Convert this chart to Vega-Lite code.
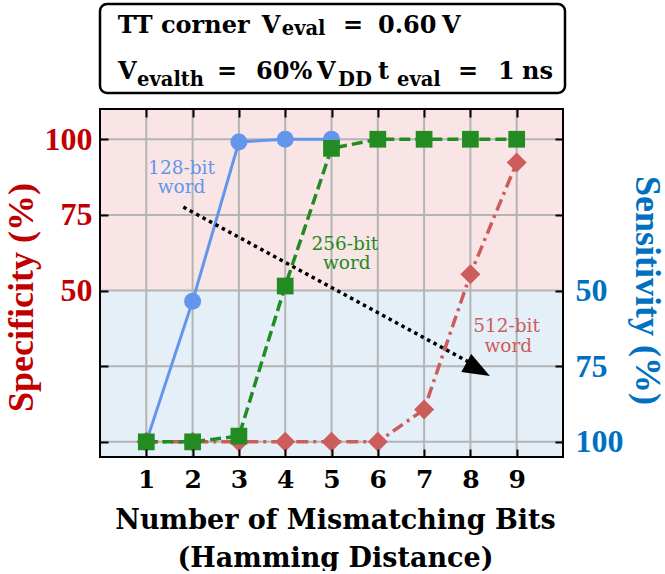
{
  "$schema": "https://vega.github.io/schema/vega-lite/v6.json",
  "padding": {"left": 3, "top": 2, "right": 0, "bottom": 0},
  "background": "white",
  "spacing": 16,
  "bounds": "flush",
  "config": {
    "view": {"stroke": null},
    "axis": {"domain": false, "grid": false, "tickColor": "black", "tickWidth": 2, "tickSize": -8}
  },
  "datasets": {
    "series": [
      {"word": "128-bit", "hd": 1, "v": 0}, {"word": "128-bit", "hd": 2, "v": 46.5}, {"word": "128-bit", "hd": 3, "v": 99.1}, {"word": "128-bit", "hd": 4, "v": 100}, {"word": "128-bit", "hd": 5, "v": 100},
      {"word": "256-bit", "hd": 1, "v": 0}, {"word": "256-bit", "hd": 2, "v": 0}, {"word": "256-bit", "hd": 3, "v": 1.9}, {"word": "256-bit", "hd": 4, "v": 51.5}, {"word": "256-bit", "hd": 5, "v": 97}, {"word": "256-bit", "hd": 6, "v": 100}, {"word": "256-bit", "hd": 7, "v": 100}, {"word": "256-bit", "hd": 8, "v": 100}, {"word": "256-bit", "hd": 9, "v": 100},
      {"word": "512-bit", "hd": 1, "v": 0}, {"word": "512-bit", "hd": 2, "v": 0}, {"word": "512-bit", "hd": 3, "v": 0}, {"word": "512-bit", "hd": 4, "v": 0}, {"word": "512-bit", "hd": 5, "v": 0}, {"word": "512-bit", "hd": 6, "v": 0}, {"word": "512-bit", "hd": 7, "v": 10.7}, {"word": "512-bit", "hd": 8, "v": 55.4}, {"word": "512-bit", "hd": 9, "v": 92.3}
    ],
    "notes": [
      {"word": "128-bit", "hd": 1.76, "v": 90.6, "text": "128-bit"}, {"word": "128-bit", "hd": 1.76, "v": 84.3, "text": "word"},
      {"word": "256-bit", "hd": 5.29, "v": 65.3, "text": "256-bit"}, {"word": "256-bit", "hd": 5.33, "v": 59.2, "text": "word"},
      {"word": "512-bit", "hd": 8.78, "v": 38.3, "text": "512-bit"}, {"word": "512-bit", "hd": 8.82, "v": 31.6, "text": "word"}
    ],
    "trend": [{"hd": 1.8, "v": 77.6}, {"hd": 7.95, "v": 26.5}],
    "head": [{"hd": 8.166, "v": 23.9}],
    "bands": [{"region": "specificity", "lo": 50, "hi": 110}, {"region": "sensitivity", "lo": -5, "hi": 50}],
    "gridx": [{"hd": 1}, {"hd": 2}, {"hd": 3}, {"hd": 4}, {"hd": 5}, {"hd": 6}, {"hd": 7}, {"hd": 8}, {"hd": 9}],
    "gridy": [{"v": 0}, {"v": 25}, {"v": 50}, {"v": 75}, {"v": 100}],
    "boxMain": [
      {"text": "TT corner", "pos": 0.0381, "row": 0.678},
      {"text": "V", "pos": 0.3477, "row": 0.678},
      {"text": "=", "pos": 0.5226, "row": 0.678},
      {"text": "0.60", "pos": 0.5978, "row": 0.678},
      {"text": "V", "pos": 0.7355, "row": 0.678},
      {"text": "V", "pos": 0.0387, "row": 0.154},
      {"text": "=", "pos": 0.2516, "row": 0.154},
      {"text": "60%", "pos": 0.3355, "row": 0.154},
      {"text": "V", "pos": 0.4667, "row": 0.154},
      {"text": "t", "pos": 0.5978, "row": 0.154},
      {"text": "=", "pos": 0.7699, "row": 0.154},
      {"text": "1", "pos": 0.8559, "row": 0.154},
      {"text": "ns", "pos": 0.9075, "row": 0.154}
    ],
    "boxSub": [
      {"text": "eval", "pos": 0.3908, "row": 0.648},
      {"text": "evalth", "pos": 0.0796, "row": 0.079},
      {"text": "DD", "pos": 0.5118, "row": 0.079},
      {"text": "eval", "pos": 0.6387, "row": 0.079}
    ]
  },
  "vconcat": [
    {
      "width": 465,
      "height": 89,
      "layer": [
        {
          "data": {"values": [{"x0": 0, "x1": 1, "y0": 0, "y1": 1}]},
          "mark": {"type": "rect", "fill": "white", "stroke": "black", "strokeWidth": 2.5, "cornerRadius": 7},
          "encoding": {
            "x": {"field": "x0", "type": "quantitative", "scale": {"domain": [0, 1], "nice": false, "zero": false}, "axis": null},
            "x2": {"field": "x1"},
            "y": {"field": "y0", "type": "quantitative", "scale": {"domain": [0, 1], "nice": false, "zero": false}, "axis": null},
            "y2": {"field": "y1"}
          }
        },
        {
          "data": {"name": "boxMain"},
          "mark": {"type": "text", "align": "left", "baseline": "alphabetic", "font": "DejaVu Serif", "fontWeight": "bold", "fontSize": 24, "color": "black"},
          "encoding": {
            "x": {"field": "pos", "type": "quantitative", "scale": {"domain": [0, 1], "nice": false, "zero": false}, "axis": null},
            "y": {"field": "row", "type": "quantitative", "scale": {"domain": [0, 1], "nice": false, "zero": false}, "axis": null},
            "text": {"field": "text"}
          }
        },
        {
          "data": {"name": "boxSub"},
          "mark": {"type": "text", "align": "left", "baseline": "alphabetic", "font": "DejaVu Serif", "fontWeight": "bold", "fontSize": 19.5, "color": "black"},
          "encoding": {
            "x": {"field": "pos", "type": "quantitative", "scale": {"domain": [0, 1], "nice": false, "zero": false}, "axis": null},
            "y": {"field": "row", "type": "quantitative", "scale": {"domain": [0, 1], "nice": false, "zero": false}, "axis": null},
            "text": {"field": "text"}
          }
        }
      ]
    },
    {
      "width": 463,
      "height": 348,
      "resolve": {"axis": {"x": "independent", "y": "independent"}},
      "layer": [
        {
          "data": {"name": "bands"},
          "mark": {"type": "rect"},
          "encoding": {
            "y": {"field": "lo", "type": "quantitative", "scale": {"domain": [-5, 110], "nice": false, "zero": false}, "axis": null},
            "y2": {"field": "hi"},
            "color": {"field": "region", "type": "nominal", "scale": {"domain": ["specificity", "sensitivity"], "range": ["#F9E5E5", "#E4EFF8"]}, "legend": null}
          }
        },
        {
          "data": {"name": "gridx"},
          "mark": {"type": "rule", "color": "#B4B4B4", "strokeWidth": 2},
          "encoding": {
            "x": {"field": "hd", "type": "quantitative", "scale": {"domain": [0, 10], "nice": false, "zero": false}, "axis": null}
          }
        },
        {
          "data": {"name": "gridy"},
          "mark": {"type": "rule", "color": "#B4B4B4", "strokeWidth": 2},
          "encoding": {
            "y": {"field": "v", "type": "quantitative", "scale": {"domain": [-5, 110], "nice": false, "zero": false}, "axis": null}
          }
        },
        {
          "data": {"name": "series"},
          "transform": [{"filter": "datum.word === '128-bit'"}],
          "mark": {"type": "line", "color": "#6495ED", "strokeWidth": 3},
          "encoding": {
            "x": {
              "field": "hd", "type": "quantitative", "scale": {"domain": [0, 10], "nice": false, "zero": false},
              "axis": {
                "orient": "bottom", "zindex": 1, "values": [1, 2, 3, 4, 5, 6, 7, 8, 9],
                "labelFont": "DejaVu Serif", "labelFontSize": 25, "labelFontWeight": "bold", "labelColor": "black", "labelPadding": 18,
                "title": ["Number of Mismatching Bits", "(Hamming Distance)"],
                "titleFont": "DejaVu Serif", "titleFontSize": 27, "titleFontWeight": "bold", "titleColor": "black",
                "titleLineHeight": 38, "titleX": 235, "titleY": 71, "titleBaseline": "alphabetic", "titleAlign": "center"
              }
            },
            "y": {
              "field": "v", "type": "quantitative", "scale": {"domain": [-5, 110], "nice": false, "zero": false},
              "axis": {
                "orient": "left", "zindex": 1, "values": [0, 25, 50, 75, 100],
                "labelExpr": "datum.value >= 50 ? datum.label : ''",
                "labelFont": "Liberation Serif", "labelFontSize": 32, "labelFontWeight": "bold", "labelColor": "#C00000", "labelPadding": 16,
                "title": "Specificity (%)",
                "titleFont": "Liberation Serif", "titleFontSize": 36, "titleFontWeight": "bold", "titleColor": "#C00000",
                "titleAngle": 270, "titleX": -78.5, "titleY": 188, "titleBaseline": "middle", "titleAlign": "center"
              }
            }
          }
        },
        {
          "data": {"name": "series"},
          "transform": [{"filter": "datum.word === '128-bit'"}],
          "mark": {"type": "point", "shape": "circle", "filled": true, "size": 290, "color": "#6495ED", "opacity": 1},
          "encoding": {
            "x": {"field": "hd", "type": "quantitative", "scale": {"domain": [0, 10], "nice": false, "zero": false}, "axis": null},
            "y": {"field": "v", "type": "quantitative", "scale": {"domain": [-5, 110], "nice": false, "zero": false}, "axis": null}
          }
        },
        {
          "data": {"name": "series"},
          "transform": [{"filter": "datum.word === '512-bit'"}],
          "mark": {"type": "line", "color": "#CD5C5C", "strokeWidth": 3.5, "strokeDash": [12, 5, 3, 5]},
          "encoding": {
            "x": {"field": "hd", "type": "quantitative", "scale": {"domain": [0, 10], "nice": false, "zero": false}, "axis": null},
            "y": {"field": "v", "type": "quantitative", "scale": {"domain": [-5, 110], "nice": false, "zero": false}, "axis": null}
          }
        },
        {
          "data": {"name": "series"},
          "transform": [{"filter": "datum.word === '512-bit'"}],
          "mark": {"type": "point", "shape": "diamond", "filled": true, "size": 400, "color": "#CD5C5C", "opacity": 1},
          "encoding": {
            "x": {"field": "hd", "type": "quantitative", "scale": {"domain": [0, 10], "nice": false, "zero": false}, "axis": null},
            "y": {"field": "v", "type": "quantitative", "scale": {"domain": [-5, 110], "nice": false, "zero": false}, "axis": null}
          }
        },
        {
          "data": {"name": "series"},
          "transform": [{"filter": "datum.word === '256-bit'"}],
          "mark": {"type": "line", "color": "#228B22", "strokeWidth": 3.5, "strokeDash": [11, 5]},
          "encoding": {
            "x": {"field": "hd", "type": "quantitative", "scale": {"domain": [0, 10], "nice": false, "zero": false}, "axis": null},
            "y": {"field": "v", "type": "quantitative", "scale": {"domain": [-5, 110], "nice": false, "zero": false}, "axis": null}
          }
        },
        {
          "data": {"name": "series"},
          "transform": [{"filter": "datum.word === '256-bit'"}],
          "mark": {"type": "point", "shape": "square", "filled": true, "size": 280, "color": "#228B22", "opacity": 1},
          "encoding": {
            "x": {"field": "hd", "type": "quantitative", "scale": {"domain": [0, 10], "nice": false, "zero": false}, "axis": null},
            "y": {"field": "v", "type": "quantitative", "scale": {"domain": [-5, 110], "nice": false, "zero": false}, "axis": null}
          }
        },
        {
          "data": {"name": "notes"},
          "mark": {"type": "text", "align": "center", "baseline": "middle", "font": "DejaVu Serif", "fontSize": 18.5},
          "encoding": {
            "x": {"field": "hd", "type": "quantitative", "scale": {"domain": [0, 10], "nice": false, "zero": false}, "axis": null},
            "y": {"field": "v", "type": "quantitative", "scale": {"domain": [-5, 110], "nice": false, "zero": false}, "axis": null},
            "text": {"field": "text"},
            "fill": {"field": "word", "type": "nominal", "scale": {"domain": ["128-bit", "256-bit", "512-bit"], "range": ["#6495ED", "#228B22", "#CD5C5C"]}, "legend": null}
          }
        },
        {
          "data": {"name": "trend"},
          "mark": {"type": "line", "color": "black", "strokeWidth": 3.5, "strokeDash": [3.5, 3.8]},
          "encoding": {
            "x": {"field": "hd", "type": "quantitative", "scale": {"domain": [0, 10], "nice": false, "zero": false}, "axis": null},
            "y": {"field": "v", "type": "quantitative", "scale": {"domain": [-5, 110], "nice": false, "zero": false}, "axis": null}
          }
        },
        {
          "data": {"name": "head"},
          "mark": {"type": "point", "shape": "M1,0L-1,-0.76L-1,0.76Z", "filled": true, "size": 729, "angle": 29, "color": "black", "opacity": 1},
          "encoding": {
            "x": {"field": "hd", "type": "quantitative", "scale": {"domain": [0, 10], "nice": false, "zero": false}, "axis": null},
            "y": {"field": "v", "type": "quantitative", "scale": {"domain": [-5, 110], "nice": false, "zero": false}, "axis": null}
          }
        },
        {
          "data": {"name": "bands"},
          "transform": [{"aggregate": [{"op": "min", "field": "lo", "as": "lo"}, {"op": "max", "field": "hi", "as": "hi"}]}],
          "mark": {"type": "rect", "fill": null, "fillOpacity": 0, "stroke": "black", "strokeWidth": 2},
          "encoding": {
            "y": {"field": "lo", "type": "quantitative", "scale": {"domain": [-5, 110], "nice": false, "zero": false}, "axis": null},
            "y2": {"field": "hi"}
          }
        },
        {
          "data": {"name": "series"},
          "mark": {"type": "point", "opacity": 0},
          "encoding": {
            "x": {
              "field": "hd", "type": "quantitative", "scale": {"domain": [0, 10], "nice": false, "zero": false},
              "axis": {"orient": "top", "zindex": 1, "values": [1, 2, 3, 4, 5, 6, 7, 8, 9], "labels": false, "title": null}
            },
            "y": {
              "field": "v", "type": "quantitative", "scale": {"domain": [-5, 110], "nice": false, "zero": false},
              "axis": {
                "orient": "right", "zindex": 1, "values": [0, 25, 50, 75, 100],
                "labelExpr": "datum.value <= 50 ? format(100 - datum.value, 'd') : ''",
                "labelFont": "Liberation Serif", "labelFontSize": 32, "labelFontWeight": "bold", "labelColor": "#0070C0", "labelPadding": 20,
                "title": "Sensitivity (%)",
                "titleFont": "Liberation Serif", "titleFontSize": 36, "titleFontWeight": "bold", "titleColor": "#0070C0",
                "titleAngle": 90, "titleX": 83, "titleY": 181, "titleBaseline": "middle", "titleAlign": "center"
              }
            }
          }
        }
      ]
    }
  ]
}
